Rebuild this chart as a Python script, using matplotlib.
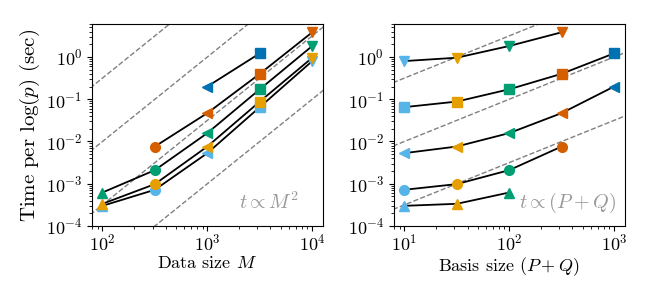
import numpy as np
import matplotlib
matplotlib.use("Agg")
import matplotlib.pyplot as plt

plt.rcParams['font.family'] = 'serif'
plt.rcParams['font.serif'] = ['cmr10']
plt.rcParams['mathtext.fontset'] = 'cm'
plt.rcParams['axes.formatter.use_mathtext'] = True
plt.rcParams['font.size'] = 13

# Data sizes M (marker shape) and basis sizes P+Q (colour)
data_sizes = [100, 316, 1000, 3162, 10000]
basis_sizes = [10, 31.6, 100, 316, 1000]
markers = ['^', 'o', '<', 's', 'v']
colors = ['#56B4E9', '#E69F00', '#009E73', '#D55E00', '#0072B2']

# times[i][j]: basis size i, data size j  (nan = not run)
nan = np.nan
times_pq10 = [3.0e-4, 7.2e-4, 5.3e-3, 0.065, 0.80]
times_pq32 = [3.35e-4, 9.8e-4, 7.6e-3, 0.088, 0.96]
times_pq100 = [6.2e-4, 2.1e-3, 0.0158, 0.172, 1.82]
times_pq316 = [nan, 7.6e-3, 0.047, 0.40, 3.84]
times_pq1000 = [nan, nan, 0.20, 1.22, nan]
times = np.array([times_pq10, times_pq32, times_pq100, times_pq316, times_pq1000])

# reference-slope guide line prefactors (log10)
guide_left = [-4.5, -6.0, -7.5, -9.0]
guide_right = [-1.5, -3.0, -4.5]

fig = plt.figure(figsize=(6.5, 3.0), dpi=100)
axL = fig.add_axes([0.1415, 0.2467, 0.355, 0.673])
axR = fig.add_axes([0.606, 0.2467, 0.355, 0.673])

M = np.array(data_sizes, dtype=float)
PQ = np.array(basis_sizes, dtype=float)

# Left panel: x = data size, one line per basis size
xl = (10**1.9, 10**4.1)
xx = np.logspace(1.5, 4.5, 50)
for c in guide_left:
    axL.plot(xx, 10**c * xx**2, ls='--', color='gray', lw=1, zorder=1)
for i in range(len(basis_sizes)):
    ok = ~np.isnan(times[i])
    axL.plot(M[ok], times[i][ok], color='black', lw=1.3, zorder=2)
    for j in range(len(data_sizes)):
        if ok[j]:
            axL.plot(M[j], times[i][j], marker=markers[j], color=colors[i],
                     ms=7, ls='none', zorder=3)
axL.text(0.9, 0.065, r'$t \propto M^2$', transform=axL.transAxes,
         ha='right', va='bottom', color='#999999', fontsize=14.5)

# Right panel: x = basis size, one line per data size
xr = (10**0.9, 10**3.1)
xx = np.logspace(0.5, 3.5, 50)
for c in guide_right:
    axR.plot(xx, 10**c * xx, ls='--', color='gray', lw=1, zorder=1)
for j in range(len(data_sizes)):
    col = times[:, j]
    ok = ~np.isnan(col)
    axR.plot(PQ[ok], col[ok], color='black', lw=1.3, zorder=2)
    for i in range(len(basis_sizes)):
        if ok[i]:
            axR.plot(PQ[i], col[i], marker=markers[j], color=colors[i],
                     ms=7, ls='none', zorder=3)
axR.text(0.965, 0.055, r'$t \propto (P+Q)$', transform=axR.transAxes,
         ha='right', va='bottom', color='#999999', fontsize=14.5)

for ax, xlim in ((axL, xl), (axR, xr)):
    ax.set_xscale('log')
    ax.set_yscale('log')
    ax.set_xlim(*xlim)
    ax.set_ylim(1e-4, 6)
    ax.tick_params(axis='x', which='major', pad=1.5)

axL.set_xlabel(r'Data size $M$', labelpad=1)
axR.set_xlabel(r'Basis size $(P+Q)$', labelpad=1)
axL.set_ylabel(r'Time per $\log(p)$ (sec)', fontsize=15, labelpad=3)

fig.savefig('out.png', dpi=100)
